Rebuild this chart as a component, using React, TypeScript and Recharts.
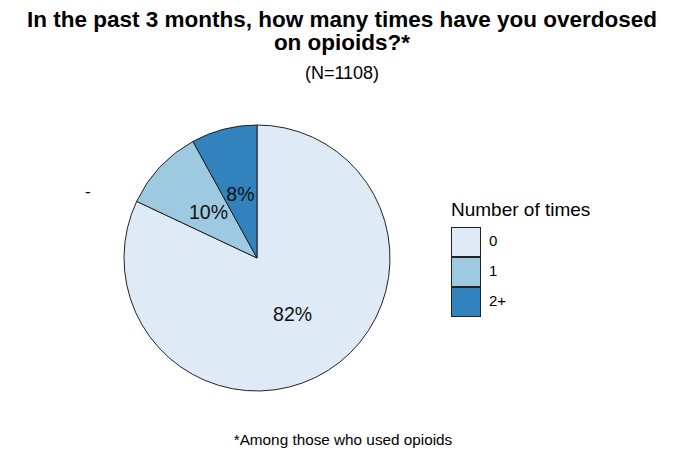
import { PieChart, Pie, Cell } from 'recharts'

const categories = ['0', '1', '2+']
const percents = [82, 10, 8]
const colors = ['#DEEBF7', '#9ECAE1', '#3182BD']

const FONT = '"Liberation Sans", Arial, sans-serif'
const RADIAN = Math.PI / 180

function SliceLabel({ cx, cy, midAngle, outerRadius, value }: any) {
  const r = outerRadius * 0.5
  const x = cx + r * Math.cos(-midAngle * RADIAN)
  const y = cy + r * Math.sin(-midAngle * RADIAN)
  return (
    <text x={x} y={y} fill="#111" fontSize={19.5} fontFamily={FONT} textAnchor="middle" dominantBaseline="central">
      {`${value}%`}
    </text>
  )
}

export default function App() {
  const data = categories.map((c, i) => ({ name: c, value: percents[i] }))

  return (
    <div style={{ position: 'absolute', left: 0, top: 0, width: 700, height: 470, background: '#fff', fontFamily: FONT, color: '#000' }}>
      <div style={{ position: 'absolute', top: 8, left: 0, width: 684, textAlign: 'center', fontWeight: 'bold', fontSize: 22.5, lineHeight: '23px' }}>
        In the past 3 months, how many times have you overdosed<br />on opioids?*
      </div>
      <div style={{ position: 'absolute', top: 62, left: 0, width: 684, textAlign: 'center', fontSize: 18, lineHeight: '22px' }}>
        (N=1108)
      </div>

      <PieChart width={700} height={470} margin={{ top: 0, right: 0, bottom: 0, left: 0 }} style={{ position: 'absolute', left: 0, top: 0 }}>
        <Pie
          data={data} dataKey="value" nameKey="name"
          cx={257} cy={258} outerRadius={133}
          startAngle={90} endAngle={-270}
          stroke="#222" strokeWidth={1}
          label={SliceLabel} labelLine={false}
          isAnimationActive={false}
        >
          {data.map((d, i) => <Cell key={d.name} fill={colors[i]} />)}
        </Pie>
      </PieChart>

      <div style={{ position: 'absolute', left: 85, top: 182, fontSize: 17 }}>-</div>

      <div style={{ position: 'absolute', left: 451, top: 198, fontSize: 19, lineHeight: '24px' }}>Number of times</div>
      {categories.map((c, i) => (
        <div key={c}>
          <div style={{
            position: 'absolute', left: 451, top: 227 + i * 30, width: 28, height: 28,
            background: colors[i], border: '1px solid #222',
          }} />
          <div style={{ position: 'absolute', left: 489, top: 232 + i * 30, fontSize: 15, lineHeight: '18px' }}>{c}</div>
        </div>
      ))}

      <div style={{ position: 'absolute', top: 430, left: 0, width: 686, textAlign: 'center', fontSize: 15.3, lineHeight: '20px' }}>
        *Among those who used opioids
      </div>
    </div>
  )
}
